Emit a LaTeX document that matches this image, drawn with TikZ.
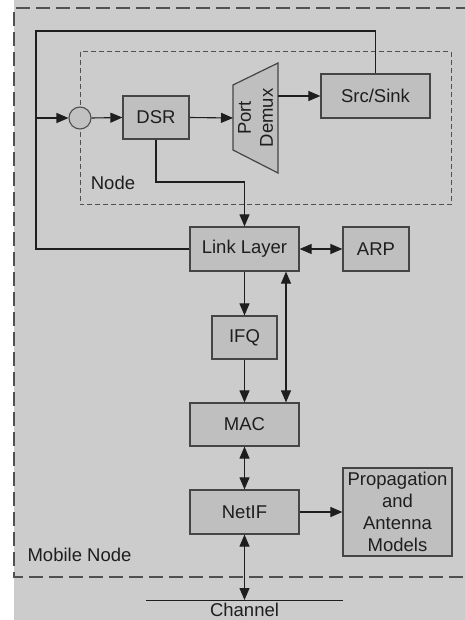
\documentclass[tikz,border=0pt]{standalone}
\usepackage{fontspec}
\setmainfont{Liberation Sans}
\usetikzlibrary{arrows.meta}
\definecolor{bggray}{HTML}{CCCCCC}
\definecolor{boxgray}{HTML}{BFBFBF}
\definecolor{edgegray}{HTML}{454545}
\definecolor{dashgray}{HTML}{505050}
\definecolor{inkgray}{HTML}{1E1E1E}
\tikzset{
  blk/.style={draw=edgegray, fill=boxgray, line width=1.2pt, inner sep=0pt,
    font=\fontsize{18.5}{22}\selectfont, text=inkgray, align=center},
  link/.style={draw=inkgray, line width=1.1pt},
  tip/.style={-{Triangle[length=12pt,width=10pt]}},
  tips/.style={{Triangle[length=12pt,width=10pt]}-{Triangle[length=12pt,width=10pt]}},
  lbl/.style={font=\fontsize{18.5}{22}\selectfont, text=inkgray, inner sep=0pt},
}
\begin{document}
\begin{tikzpicture}[x=1pt, y=-1pt]
\useasboundingbox (0,0) rectangle (465,620);
% backdrop
\fill[bggray] (14,0) rectangle (465,620);
% mobile node boundary (runs off the right edge)
\draw[dashgray, line width=1.3pt, dash pattern=on 14pt off 6pt]
  (470,8) -- (14,8) -- (14,577) -- (470,577);
% node boundary
\draw[dashgray, line width=1pt, dash pattern=on 5pt off 3pt]
  (80,52) rectangle (451,205);

% blocks
\node[blk, minimum width=66pt, minimum height=43pt] (dsr) at (156,117.5) {DSR};
\node[blk, minimum width=109pt, minimum height=44pt] (src) at (375.5,96) {Src/Sink};
\node[blk, minimum width=109pt, minimum height=44pt] (ll) at (244.5,249) {Link Layer};
\node[blk, minimum width=66pt, minimum height=44pt] (arp) at (376,249) {ARP};
\node[blk, minimum width=65pt, minimum height=43pt] (ifq) at (244.5,337.5) {IFQ};
\node[blk, minimum width=109pt, minimum height=43pt] (mac) at (244.5,424.5) {MAC};
\node[blk, minimum width=109pt, minimum height=44pt] (netif) at (244.5,512) {NetIF};
\node[blk, minimum width=109pt, minimum height=88pt] (prop) at (397.5,512)
  {Propagation\\and\\Antenna\\Models};

% entry point
\node[circle, draw=dashgray, fill=boxgray!80!bggray, line width=1.1pt,
  minimum size=22pt, inner sep=0pt] (entry) at (80,118) {};

% port demultiplexer
\draw[edgegray, fill=boxgray, line width=1.2pt]
  (233,85) -- (278,63) -- (278,173) -- (233,150) -- cycle;
\node[lbl, rotate=90, align=center] (demux) at (255.5,118) {Port\\Demux};
\coordinate (pdin) at (233,118);
\coordinate (pdout) at (278,96);

% feedback loop from Src/Sink back to the entry point
\coordinate (fbll) at (36,249);
\coordinate (fbtop) at (36,31);
\coordinate (fbin) at (36,118);
\draw[link] (ll.west) -- (fbll) -- (fbtop) -| (src.north);
\draw[link, tip] (fbin) -- (entry.west);

% upper data flow
\draw[link, tip] (entry.east) -- (dsr.west);
\draw[link, tip] (dsr.east) -- (pdin);
\draw[link, tip] (pdout) -- (src.west |- pdout);
\coordinate (dsrbend) at (244.5,182);
\draw[link, tip] (dsr.south) |- (dsrbend) -- (ll.north);

% link layer and below
\draw[link, tips] (ll.east) -- (arp.west);
\draw[link, tip] (ll.south) -- (ifq.north);
\draw[link, tip] (ifq.south) -- (mac.north);
\draw[link, tips] ([xshift=41.5pt]ll.south) -- ([xshift=41.5pt]mac.north);
\draw[link, tips] (mac.south) -- (netif.north);
\draw[link, tip] (netif.east) -- (prop.west);

% channel
\coordinate (chl) at (146,600);
\coordinate (chr) at (343,600);
\coordinate (chtap) at (244.5,600);
\draw[inkgray, line width=1pt] (chl) -- (chr);
\draw[link, tips] (netif.south) -- (chtap);
\node[lbl, anchor=base] (chan) at (244.5,616.5) {Channel};

% labels
\node[lbl] (nodelbl) at (113,183) {Node};
\node[lbl] (mnlbl) at (79.5,555) {Mobile Node};
\end{tikzpicture}
\end{document}
